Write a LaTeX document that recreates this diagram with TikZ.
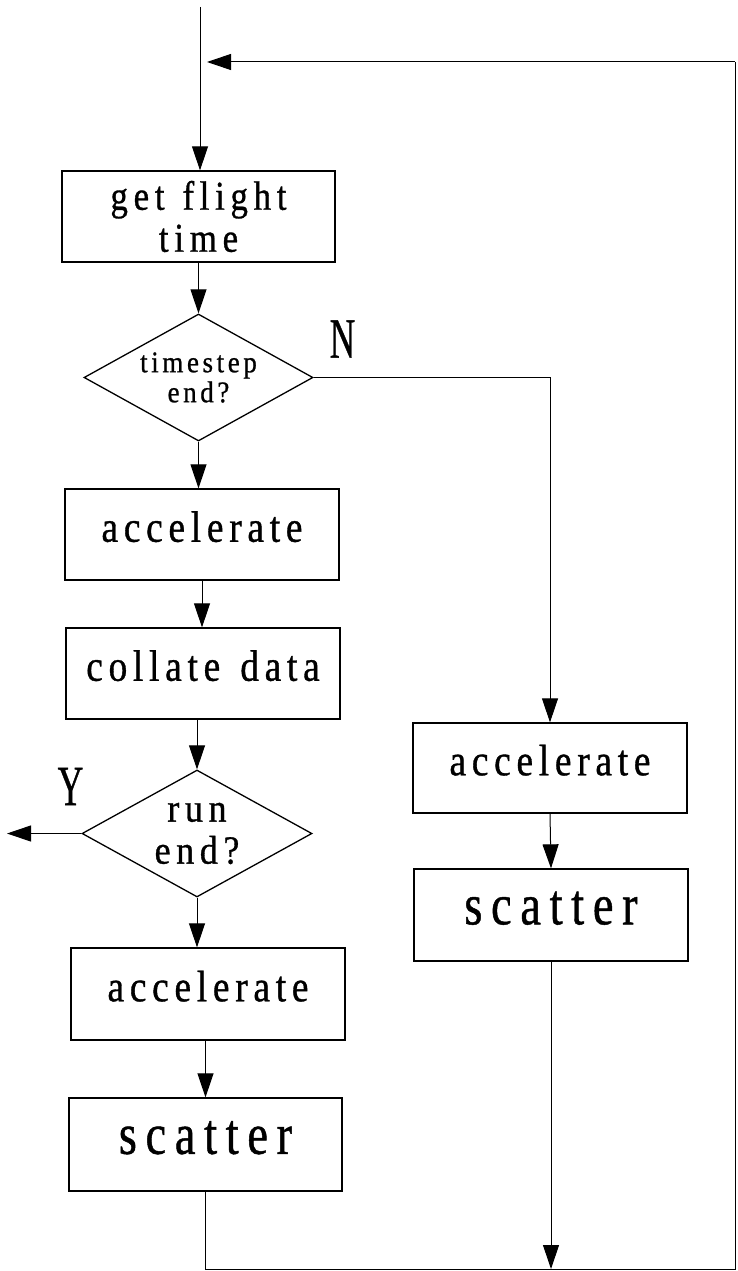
\documentclass[tikz,border=0pt]{standalone}
\usepackage{fontspec}
\newfontfamily\fA{Liberation Serif}[FakeStretch=0.85,LetterSpace=13,Ligatures=NoCommon,FakeBold=0.8]
\newfontfamily\fB{Liberation Serif}[FakeStretch=0.85,LetterSpace=14,Ligatures=NoCommon,FakeBold=0.8]
\newfontfamily\fC{Liberation Serif}[FakeStretch=0.9,LetterSpace=12,Ligatures=NoCommon,FakeBold=0.8]
\newfontfamily\fR{Liberation Serif}[FakeStretch=0.9,LetterSpace=14,Ligatures=NoCommon,FakeBold=0.8]
\newfontfamily\fD{Liberation Serif}[FakeStretch=0.8,LetterSpace=15,Ligatures=NoCommon,FakeBold=0.8]
\newfontfamily\fE{Liberation Serif}[FakeStretch=0.62,FakeBold=0.6]
\usetikzlibrary{shapes.geometric,arrows.meta}
\tikzset{
  box/.style={draw, line width=1.3pt, rectangle, minimum width=274pt, minimum height=91pt, inner sep=0pt},
  dec/.style={draw, line width=1.3pt, diamond, shape aspect=1.8, minimum width=229pt, minimum height=127pt, inner sep=0pt, align=center},
  flow/.style={line width=1pt},
  arr/.style={flow, -{Triangle[length=24pt,width=16pt]}},
  lbl/.style={inner sep=0pt, font=\fontsize{57}{57}\fE},
  acc/.style={font=\fontsize{44}{46}\fA, text depth=16pt},
  sca/.style={font=\fontsize{58}{60}\fD, text depth=14pt},
}
\begin{document}
\begin{tikzpicture}[x=1pt,y=-1pt]
  \useasboundingbox (0,0) rectangle (737,1271);
  % left column
  \node[box, minimum width=273pt, align=center, font=\fontsize{41}{42}\fB] (b1) at (198.5,216.5) {get\hspace{18pt}f\kern5.5pt light\\time};
  \node[dec, font=\fontsize{30}{30}\fC] (d1) at (198.5,377.5) {timestep\\end?};
  \node[box, acc] (a1) at (202,534.5) {accelerate};
  \node[box, acc] (c1) at (203,673.5) {collate\hspace{20pt}data};
  \node[dec, minimum width=230pt, font=\fontsize{40}{42}\fR] (d2) at (197,833.5) {run\\end?};
  \node[box, acc, minimum height=92pt] (a3) at (208,994) {accelerate};
  \node[box, sca, minimum width=273pt, minimum height=93pt] (s3) at (205.5,1144.5) {scatter};
  % right column
  \node[box, acc, minimum height=90pt] (a2) at (550,768) {accelerate};
  \node[box, sca, minimum height=92pt] (s2) at (551,915) {scatter};
  % labels
  \node[lbl] (N) at (342.5,339) {N};
  \node[lbl] (Y) at (70.5,786.5) {Y};
  % coordinates
  \coordinate (start) at (200,7);
  \coordinate (br) at (735,1269);
  \coordinate (tr) at (735,62);
  \coordinate (fbtip) at (207,62);
  \coordinate (yend) at (7,833.5);
  % connectors
  \draw[arr] (start) -- (start |- b1.north);
  \draw[arr] (b1.south) -- (d1.north);
  \draw[arr] (d1.south) -- (d1.south |- a1.north);
  \draw[arr] (a1.south) -- (a1.south |- c1.north);
  \draw[arr] (c1.south -| d2.north) -- (d2.north);
  \draw[arr] (d2.south) -- (d2.south |- a3.north);
  \draw[arr] (a3.south -| s3.north) -- (s3.north);
  \draw[arr] (d2.west) -- (yend);
  \draw[arr] (d1.east) -| (a2.north);
  \draw[arr] (a2.south) -- (s2.north);
  \draw[flow] (s3.south) |- (br) -- (tr);
  \draw[arr] (tr) -- (fbtip);
  \draw[arr] (s2.south) -- (s2.south |- br);
\end{tikzpicture}
\end{document}
